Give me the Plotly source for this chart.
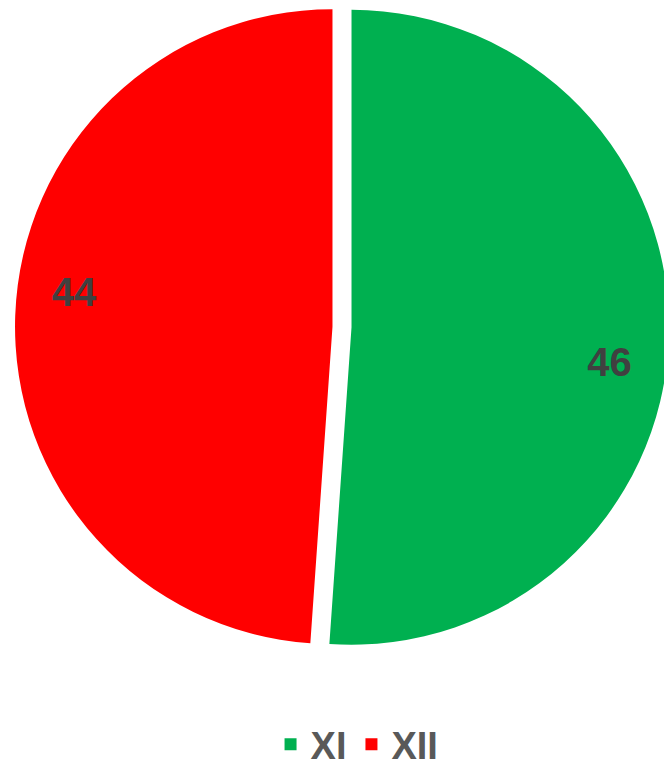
import plotly.graph_objects as go

categories = ["XI", "XII"]
values = [46, 44]
colors = ["#00B050", "#FF0000"]

PULL = [0.03, 0.03]
DOMAIN = dict(x=[0, 1], y=[0.154, 1.0])

# Slices
fig = go.Figure(go.Pie(
    labels=categories,
    values=values,
    sort=False,
    direction="clockwise",
    rotation=0,
    pull=PULL,
    marker=dict(colors=colors, line=dict(color="white", width=0)),
    textinfo="none",
    domain=DOMAIN,
    hoverinfo="label+value",
    showlegend=True,
))

# Transparent ring carrying the value labels near the outer edge
fig.add_trace(go.Pie(
    labels=categories,
    values=values,
    sort=False,
    direction="clockwise",
    rotation=5.5,
    pull=PULL,
    hole=0.64,
    marker=dict(colors=["rgba(0,0,0,0)"] * len(values), line=dict(width=0)),
    texttemplate="<b>%{value}</b>",
    textposition="inside",
    insidetextorientation="horizontal",
    textfont=dict(family="Liberation Sans", size=40, color="#404040"),
    domain=DOMAIN,
    hoverinfo="skip",
    showlegend=False,
))

fig.update_layout(
    width=684,
    height=773,
    autosize=False,
    margin=dict(l=0, r=0, t=0, b=0, autoexpand=False),
    paper_bgcolor="white",
    plot_bgcolor="white",
    showlegend=True,
    legend=dict(
        orientation="h",
        x=0.522, xanchor="center",
        y=-0.004, yanchor="bottom",
        font=dict(family="Liberation Sans", size=38, color="#595959", weight="bold"),
        itemsizing="constant",
    ),
)

fig.write_html(
    "out.html",
    config={"displayModeBar": False},
    post_script="document.body.style.margin='0px';document.body.style.overflow='hidden';document.documentElement.style.overflow='hidden';",
)
